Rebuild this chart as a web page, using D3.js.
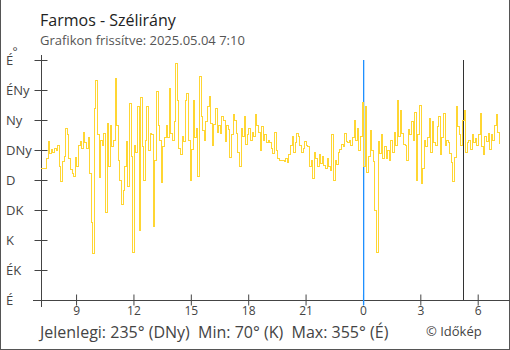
<!DOCTYPE html>
<html>
<head>
<meta charset="utf-8">
<script src="https://cdn.jsdelivr.net/npm/d3@7"></script>
<style>
  html, body { margin: 0; padding: 0; background: #fff; }
  svg { display: block; font-family: "Open Sans", "Noto Sans", sans-serif; }
</style>
</head>
<body>
<svg id="chart" width="510" height="350"></svg>
<script>
// Wind direction (degrees), 5-minute readings from 2025-05-03 07:10 to 2025-05-04 07:10
const startTime = new Date(2025, 4, 3, 7, 10);
const stepMinutes = 5;
const direction = [
  198,198,198,198,212,238,220,226,222,228,225,232,200,178,208,215,258,248,212,196,
  190,186,214,200,232,238,228,252,236,228,244,190,116,70,287,330,248,184,240,232,
  250,131,265,200,262,230,240,332,262,210,180,144,165,200,238,170,295,215,72,232,
  222,290,104,304,230,180,240,290,225,250,248,110,
  210,313,262,240,176,230,244,262,244,318,250,240,268,355,300,228,218,245,238,300,
  310,240,180,226,300,244,258,186,336,275,255,240,268,290,305,265,232,264,288,252,
  262,250,275,270,238,262,256,214,248,278,270,250,222,200,258,246,276,234,248,258,
  240,252,246,278,262,252,225,260,240,248,236,240,236,
  228,220,252,225,212,210,210,210,208,212,206,218,232,245,222,236,250,246,232,222,
  228,238,232,230,200,210,182,222,212,200,218,205,215,202,198,212,200,195,248,179,
  210,204,222,226,234,230,250,238,236,240,232,244,270,240,258,225,246,297,200,290,
  192,215,254,225,208,135,72,238,220,248,212,230,
  212,224,210,240,222,252,232,300,246,285,250,234,232,210,256,248,268,240,282,180,
  248,292,175,198,240,230,244,272,222,268,236,232,260,276,218,244,280,232,240,236,
  220,206,178,214,290,260,248,232,270,284,222,236,240,226,248,236,242,232,248,280,
  230,218,246,238,250,226,248,240,262,278,252,235
];

// Compass labels for 0..360 every 45 degrees
const dirTicks = [0, 45, 90, 135, 180, 225, 270, 315, 360];
const dirLabels = ["É", "ÉK", "K", "DK", "D", "DNy", "Ny", "ÉNy", "É"];

// Hour ticks on the time axis
const hourTicks = [
  new Date(2025, 4, 3, 9), new Date(2025, 4, 3, 12), new Date(2025, 4, 3, 15),
  new Date(2025, 4, 3, 18), new Date(2025, 4, 3, 21), new Date(2025, 4, 4, 0),
  new Date(2025, 4, 4, 3), new Date(2025, 4, 4, 6)
];
const midnight = new Date(2025, 4, 4, 0, 0);
const sunrise = new Date(2025, 4, 4, 5, 15);

const stationName = "Farmos - Szélirány";
const updatedText = "Grafikon frissítve: 2025.05.04 7:10";
const creditText = "© Időkép";

const data = direction.map((v, i) => ({
  t: new Date(startTime.getTime() + i * stepMinutes * 60000),
  v
}));

const svg = d3.select("#chart");
const W = 510, H = 350;
const plotLeft = 41, plotRight = 500, plotTop = 60, plotBottom = 300;

const x = d3.scaleTime()
  .domain([startTime, data[data.length - 1].t])
  .range([plotLeft, plotRight]);
const y = d3.scaleLinear().domain([0, 360]).range([plotBottom, plotTop]);

const axisColor = "#444";
const midnightColor = "#1e90ff";

// Frame
svg.append("g").selectAll("line")
  .data([[0.5, 0, 0.5, H], [W - 0.5, 0, W - 0.5, H], [0, H - 0.5, W, H - 0.5]])
  .join("line")
  .attr("x1", d => d[0]).attr("y1", d => d[1])
  .attr("x2", d => d[2]).attr("y2", d => d[3])
  .attr("stroke", "#555").attr("stroke-width", 1);

// Titles
svg.append("text").attr("x", 40).attr("y", 25.5)
  .attr("font-size", 16).attr("fill", "#222").text(stationName);
svg.append("text").attr("x", 40).attr("y", 45)
  .attr("font-size", 13).attr("fill", "#555").text(updatedText);

// Y axis
const yAxis = svg.append("g")
  .attr("transform", `translate(${plotLeft + 0.5},0)`)
  .call(d3.axisLeft(y).tickValues(dirTicks).tickSize(7).tickFormat(""));
yAxis.select(".domain").remove();
yAxis.selectAll(".tick line").attr("x1", 6).attr("x2", -7)
  .attr("stroke", axisColor);
yAxis.append("line")
  .attr("x1", 0).attr("x2", 0).attr("y1", 55).attr("y2", 307)
  .attr("stroke", axisColor);

svg.append("g").selectAll("text")
  .data(dirTicks)
  .join("text")
  .attr("x", 6)
  .attr("y", d => y(d) + 4.5)
  .attr("font-size", 13)
  .attr("fill", "#444")
  .text((d, i) => dirLabels[i]);
svg.append("text").attr("x", 12.5).attr("y", 56)
  .attr("font-size", 12).attr("fill", "#444").text("°");

// X axis
const xAxis = svg.append("g")
  .attr("transform", `translate(0,${plotBottom + 0.5})`)
  .call(d3.axisBottom(x).tickValues(hourTicks).tickSize(5)
    .tickFormat(d3.timeFormat("%-H")));
xAxis.select(".domain").remove();
xAxis.selectAll(".tick line").attr("y1", -6).attr("y2", 5)
  .attr("stroke", d => +d === +midnight ? midnightColor : axisColor);
xAxis.selectAll(".tick text")
  .attr("y", 14).attr("dy", "0")
  .attr("font-family", "Open Sans, sans-serif")
  .attr("font-size", 12).attr("fill", "#444");
xAxis.append("line")
  .attr("x1", 33).attr("x2", W).attr("y1", 0).attr("y2", 0)
  .attr("stroke", axisColor);

// Midnight and sunrise markers, drawn as thin filled rects
const markerX = t => Math.round(x(t));
svg.append("rect")
  .attr("x", markerX(sunrise)).attr("y", plotTop)
  .attr("width", 1).attr("height", plotBottom - plotTop)
  .attr("fill", "#333");
svg.append("rect")
  .attr("x", markerX(midnight)).attr("y", plotTop)
  .attr("width", 1.3).attr("height", plotBottom - plotTop + 5)
  .attr("fill", midnightColor);

// Direction line
const line = d3.line()
  .x(d => x(d.t))
  .y(d => y(d.v))
  .curve(d3.curveStep);
svg.append("path")
  .datum(data)
  .attr("d", line)
  .attr("fill", "none")
  .attr("stroke", "#ffd633")
  .attr("stroke-width", 1)
  .attr("shape-rendering", "crispEdges");

// Summary
const nameOf = v => dirLabels[Math.round(v / 45) % 8];
const cur = direction[direction.length - 1];
const mn = d3.min(direction), mx = d3.max(direction);
svg.append("text").attr("x", 40).attr("y", 338)
  .attr("font-size", 16).attr("fill", "#444")
  .attr("xml:space", "preserve")
  .text(`Jelenlegi: ${cur}° (${nameOf(cur)})  Min: ${mn}° (${nameOf(mn)})  Max: ${mx}° (${nameOf(mx)})`);
svg.append("text").attr("x", 426).attr("y", 336)
  .attr("font-size", 13).attr("fill", "#444").text(creditText);
</script>
</body>
</html>
